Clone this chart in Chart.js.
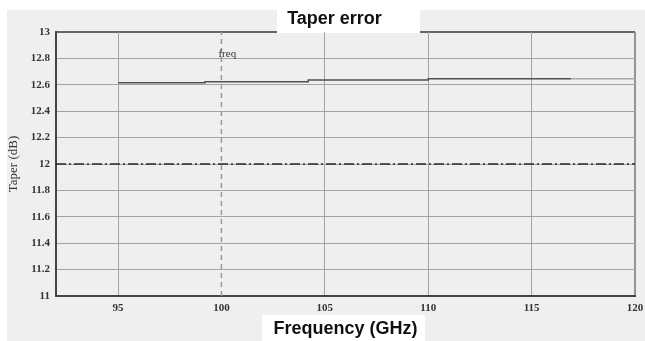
<!DOCTYPE html>
<html><head><meta charset="utf-8">
<script src="https://cdn.jsdelivr.net/npm/chart.js@4/dist/chart.umd.min.js"></script>
<style>html,body{margin:0;padding:0;background:#fff}#wrap{width:645px;height:341px}</style>
</head><body><div id="wrap"><canvas id="c" width="645" height="341"></canvas></div>
<script>
// ---- data ----
const xTicks = [95, 100, 105, 110, 115, 120];
const yTicks = [11, 11.2, 11.4, 11.6, 11.8, 12, 12.2, 12.4, 12.6, 12.8, 13];
const stepFreq = [95, 99.2, 104.2, 110, 116.9];
const stepTaper = [12.616, 12.624, 12.636, 12.646, 12.646];
const tailFreq = [116.9, 120];
const tailTaper = [12.646, 12.646];
const specFreq = [92, 120];
const specTaper = [12, 12];
const markerFreq = [100, 100];
const markerTaper = [11, 13];
const markerLabel = 'freq';
const markerLabelTaper = 12.83;

const pts = (xs, ys) => xs.map((x, i) => ({x: x, y: ys[i]}));

const decorPlugin = {
  id: 'decor',
  afterLayout(chart) {
    // shift the title slightly left, as in the reference
    if (chart.titleBlock) { chart.titleBlock.right -= 22; }
  },
  beforeDraw(chart) {
    const ctx = chart.ctx, a = chart.chartArea;
    ctx.save();
    ctx.fillStyle = '#ffffff';
    ctx.fillRect(0, 0, chart.width, chart.height);
    ctx.fillStyle = '#efefef';
    ctx.fillRect(7, 10, chart.width - 7, chart.height - 10);
    // top and right frame
    ctx.strokeStyle = '#666';
    ctx.lineWidth = 2;
    ctx.beginPath(); ctx.moveTo(a.left, a.top); ctx.lineTo(a.right, a.top); ctx.stroke();
    ctx.strokeStyle = '#777';
    ctx.lineWidth = 1.5;
    ctx.beginPath(); ctx.moveTo(a.right, a.top); ctx.lineTo(a.right, a.bottom); ctx.stroke();
    // white boxes behind titles
    ctx.fillStyle = '#ffffff';
    ctx.fillRect(277, 0, 143, 33);
    ctx.fillRect(262, 315, 163, 26);
    ctx.restore();
  },
  afterDatasetsDraw(chart) {
    const ctx = chart.ctx;
    const x = chart.scales.x.getPixelForValue(markerFreq[0]);
    const y = chart.scales.y.getPixelForValue(markerLabelTaper);
    ctx.save();
    ctx.font = '11px "Liberation Serif"';
    ctx.fillStyle = '#333';
    ctx.textAlign = 'left';
    ctx.textBaseline = 'middle';
    ctx.fillText(markerLabel, x - 3, y);
    ctx.restore();
  }
};

new Chart(document.getElementById('c'), {
  type: 'scatter',
  data: {
    datasets: [
      {data: pts(markerFreq, markerTaper), showLine: true, borderColor: '#9a9a9a', borderWidth: 1.5, borderDash: [5, 4], pointRadius: 0},
      {data: pts(specFreq, specTaper), showLine: true, borderColor: '#2a2a2a', borderWidth: 1.5, borderDash: [10, 3, 2, 3], pointRadius: 0},
      {data: pts(stepFreq, stepTaper), showLine: true, stepped: 'before', borderColor: '#505050', borderWidth: 1.5, pointRadius: 0},
      {data: pts(tailFreq, tailTaper), showLine: true, borderColor: '#a8a8a8', borderWidth: 1.5, pointRadius: 0}
    ]
  },
  options: {
    responsive: false,
    devicePixelRatio: 1,
    animation: false,
    layout: {padding: {left: 0, right: 10, top: 0, bottom: 0}},
    plugins: {
      legend: {display: false},
      tooltip: {enabled: false},
      title: {
        display: true, text: 'Taper error', fullSize: false, align: 'center',
        font: {family: '"Liberation Sans", Arial, sans-serif', size: 18, weight: 'bold', lineHeight: 1.2},
        color: '#111', padding: {top: 8, bottom: 2.4}
      }
    },
    scales: {
      x: {
        type: 'linear', min: 92, max: 120,
        afterBuildTicks: s => { s.ticks = xTicks.map(v => ({value: v})); },
        afterFit: s => { s.height = 45; s.paddingRight = 0; s.paddingLeft = 0; },
        ticks: {padding: 6, autoSkip: false, maxRotation: 0, color: '#333',
          font: {family: '"Liberation Serif", serif', size: 11, weight: 'bold'}},
        grid: {drawTicks: false, lineWidth: 1,
          color: c => (c.tick && (c.tick.value === 100 || c.tick.value === 120)) ? 'rgba(0,0,0,0)' : '#a4a4a4'},
        border: {color: '#444', width: 2},
        title: {display: true, text: 'Frequency (GHz)', color: '#111',
          font: {family: '"Liberation Sans", Arial, sans-serif', size: 18, weight: 'bold', lineHeight: 1.2},
          padding: {top: 0, bottom: 1}}
      },
      y: {
        type: 'linear', min: 11, max: 13,
        afterBuildTicks: s => { s.ticks = yTicks.map(v => ({value: v})); },
        afterFit: s => { s.width = 56; },
        ticks: {padding: 6, autoSkip: false, color: '#333',
          font: {family: '"Liberation Serif", serif', size: 11, weight: 'bold'},
          callback: v => String(Math.round(v * 10) / 10)},
        grid: {drawTicks: false, lineWidth: 1,
          color: c => (c.tick && (c.tick.value === 11 || c.tick.value === 13)) ? 'rgba(0,0,0,0)' : '#a4a4a4'},
        border: {color: '#444', width: 2},
        title: {display: true, text: 'Taper (dB)', color: '#333',
          font: {family: '"Liberation Serif", serif', size: 13, lineHeight: 1.2},
          padding: {top: 6, bottom: 0}}
      }
    }
  },
  plugins: [decorPlugin]
});
</script>
</body></html>
